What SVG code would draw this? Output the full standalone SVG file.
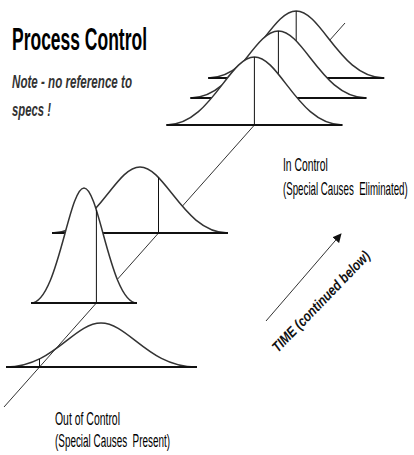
<svg xmlns="http://www.w3.org/2000/svg" width="414" height="455" viewBox="0 0 414 455">
  <style>
    .bell { fill: #fff; stroke: #333; stroke-width: 1.5; }
    .bell-open { fill: none; stroke: #333; stroke-width: 1.5; }
    .base { stroke: #111; stroke-width: 2; fill: none; }
    .mean { stroke: #111; stroke-width: 1; fill: none; }
    .axis { stroke: #333; stroke-width: 1; fill: none; }
    .title { font-family: "Liberation Sans", Arial, sans-serif; font-weight: bold; font-size: 32px; fill: #000; }
    .note { font-family: "Liberation Sans", Arial, sans-serif; font-weight: bold; font-style: italic; font-size: 17.5px; fill: #333; }
    .label { font-family: "Liberation Sans", Arial, sans-serif; font-size: 18px; fill: #000; }
    .time { font-family: "Liberation Sans", Arial, sans-serif; font-weight: bold; font-style: italic; font-size: 14.5px; fill: #111; }
  </style>
  <defs>
    <marker id="arrowhead" viewBox="0 0 10 10" refX="9" refY="5" markerWidth="9" markerHeight="9" markerUnits="userSpaceOnUse" orient="auto">
      <path d="M0,0 L10,5 L0,10 z" fill="#111"/>
    </marker>
  </defs>

  <rect width="414" height="455" fill="#fff"/>

  <g id="title">
    <text class="title" x="12" y="50" textLength="135" lengthAdjust="spacingAndGlyphs">Process Control</text>
  </g>
  <g id="note">
    <text class="note" x="12" y="88" textLength="120" lengthAdjust="spacingAndGlyphs">Note - no reference to</text>
    <text class="note" x="12" y="116" textLength="39" lengthAdjust="spacingAndGlyphs">specs !</text>
  </g>

  <!-- time axis running through every distribution mean -->
  <g id="connectors">
    <line class="axis" x1="4" y1="407" x2="345" y2="23"/>
  </g>

  <!-- bottom, wide distribution (left open so the axis stays visible at its foot) -->
  <g id="dist-wide">
    <path class="bell-open" d="M6,367 C53.5,367 73.4,323 101,323 C128.6,323 148.5,367 196,367"/>
    <line class="base" x1="6" y1="367" x2="197" y2="367"/>
    <line class="mean" x1="39.5" y1="359" x2="39.5" y2="367"/>
  </g>

  <!-- shifted distribution, drawn behind the narrow one -->
  <g id="dist-shifted">
    <path class="bell" d="M52,233 C96,233 114.5,167 140,167 C165.5,167 184,233 228,233 Z"/>
    <line class="base" x1="52" y1="233" x2="228" y2="233"/>
    <line class="mean" x1="158.5" y1="177.5" x2="158.5" y2="233"/>
  </g>

  <g id="dist-narrow">
    <path class="bell" d="M31,303 C57.5,303 68.6,188 84,188 C99.4,188 110.5,303 137,303 Z"/>
    <line class="base" x1="31" y1="303" x2="137" y2="303"/>
    <line class="mean" x1="96.4" y1="210" x2="96.4" y2="303"/>
  </g>

  <!-- in-control distributions, back to front -->
  <g id="dist-stable-3">
    <path class="bell" d="M208.2,78 C252.2,78 270.7,11 296.2,11 C321.7,11 340.2,78 384.2,78 Z"/>
    <line class="base" x1="208.2" y1="78" x2="384.2" y2="78"/>
    <line class="mean" x1="296.2" y1="11" x2="296.2" y2="78"/>
  </g>
  <g id="dist-stable-2">
    <path class="bell" d="M190.4,98 C234.4,98 252.9,31 278.4,31 C303.9,31 322.4,98 366.4,98 Z"/>
    <line class="base" x1="190.4" y1="98" x2="366.4" y2="98"/>
    <line class="mean" x1="278.4" y1="31" x2="278.4" y2="98"/>
  </g>
  <g id="dist-stable-1">
    <path class="bell" d="M166.4,125 C210.4,125 228.9,57 254.4,57 C279.9,57 298.4,125 342.4,125 Z"/>
    <line class="base" x1="166.4" y1="125" x2="342.4" y2="125"/>
    <line class="mean" x1="254.4" y1="57" x2="254.4" y2="125"/>
  </g>

  <!-- labels are set in a horizontally condensed face -->
  <g id="label-in-control" transform="translate(283,0) scale(0.54,1)">
    <text class="label" x="0" y="171" textLength="83" lengthAdjust="spacingAndGlyphs">In Control</text>
    <text class="label" x="0" y="195" textLength="231" lengthAdjust="spacingAndGlyphs" xml:space="preserve">(Special Causes  Eliminated)</text>
  </g>

  <g id="label-out-of-control">
    <text class="label" x="55" y="425" textLength="65" lengthAdjust="spacingAndGlyphs">Out of Control</text>
    <text class="label" x="55" y="447" textLength="115" lengthAdjust="spacingAndGlyphs" xml:space="preserve">(Special Causes  Present)</text>
  </g>

  <g id="time-label">
    <line class="axis" x1="266" y1="321" x2="341" y2="234" marker-end="url(#arrowhead)"/>
    <text class="time" transform="translate(278,353) rotate(-46)" x="0" y="0" textLength="134" lengthAdjust="spacingAndGlyphs">TIME (continued below)</text>
  </g>
</svg>
